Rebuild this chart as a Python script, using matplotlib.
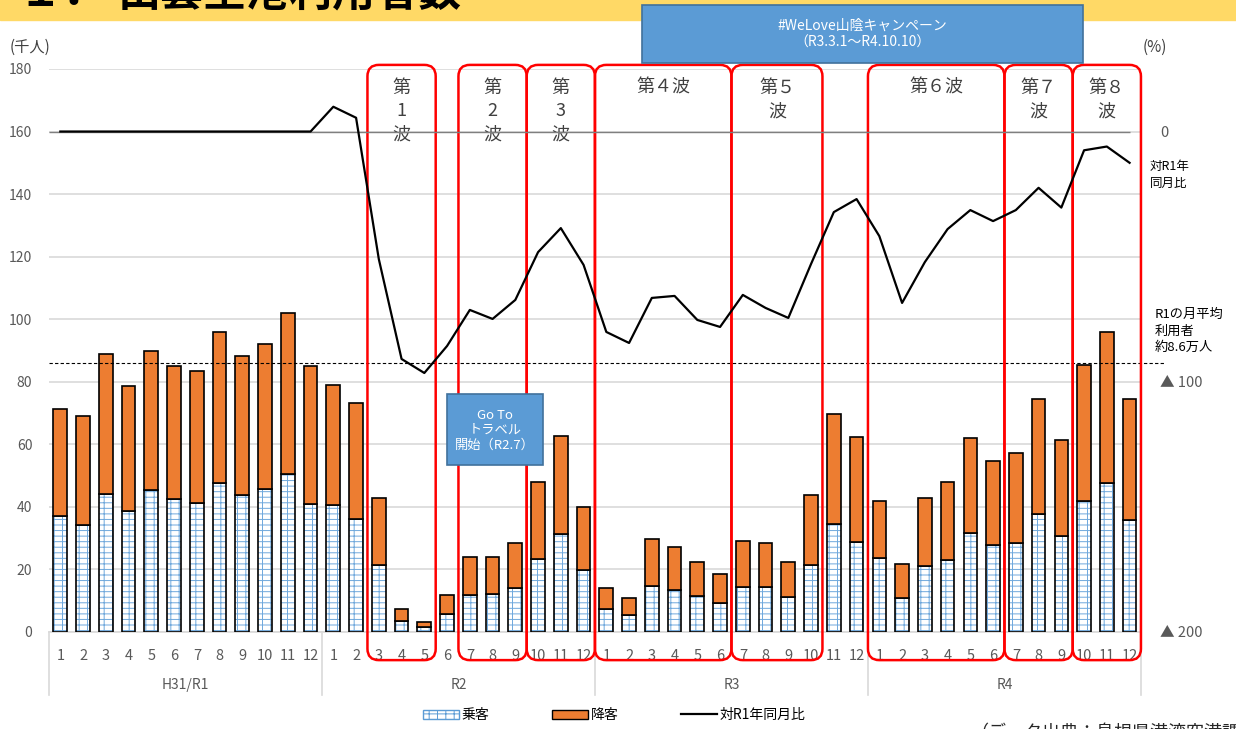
import numpy as np
import matplotlib.pyplot as plt
import matplotlib.transforms as mtransforms
from matplotlib.patches import Patch, Rectangle, FancyBboxPatch
from matplotlib.lines import Line2D

plt.rcParams['font.family'] = ['Noto Sans CJK JP', 'DejaVu Sans']
plt.rcParams['hatch.linewidth'] = 0.7

# Data (thousand people)
years = ["H31/R1", "R2", "R3", "R4"]
months = [str(m) for m in range(1, 13)] * 4

boarding = [37.2, 34.2, 44.2, 38.6, 45.3, 42.5, 41.1, 47.6, 43.8, 45.7, 50.5, 40.9,
            40.7, 36.1, 21.4, 3.5, 1.5, 5.8, 11.7, 12.0, 14.2, 23.2, 31.2, 19.8,
            7.4, 5.3, 14.7, 13.3, 11.4, 9.4, 14.3, 14.3, 11.1, 21.4, 34.6, 28.7,
            23.5, 11.0, 21.2, 22.9, 31.8, 27.7, 28.3, 37.6, 30.7, 41.9, 47.7, 35.8]

alighting = [34.1, 34.9, 44.6, 40.0, 44.5, 42.5, 42.3, 48.4, 44.5, 46.3, 51.6, 44.1,
             38.3, 37.0, 21.5, 3.9, 1.7, 6.1, 12.4, 12.1, 14.3, 24.9, 31.6, 20.2,
             6.8, 5.5, 15.1, 14.0, 10.9, 9.2, 14.8, 14.3, 11.4, 22.4, 35.1, 33.5,
             18.4, 10.8, 21.5, 25.1, 30.1, 27.0, 28.8, 37.0, 30.7, 43.5, 48.3, 38.8]

# change vs same month of R1 (%)
ratio = [0, 0, 0, 0, 0, 0, 0, 0, 0, 0, 0, 0,
         9.9, 5.5, -51.0, -90.9, -96.5, -85.7, -71.3, -74.9, -67.3, -48.2, -38.6, -53.3,
         -80.1, -84.5, -66.5, -65.7, -75.3, -78.1, -65.3, -70.5, -74.5, -52.9, -32.2, -27.0,
         -41.8, -68.5, -52.2, -39.0, -31.4, -35.8, -31.4, -22.5, -30.4, -7.5, -6.0, -12.5]

r1_avg = 86  # R1 monthly average (thousand)

wave_labels = ["第\n1\n波", "第\n2\n波", "第\n3\n波", "第４波", "第５\n波", "第６波", "第７\n波", "第８\n波"]
wave_first = [14, 18, 21, 24, 30, 36, 42, 45]
wave_last = [16, 20, 23, 29, 33, 41, 44, 47]

x = np.arange(len(boarding))
grey = "#595959"

fig = plt.figure(figsize=(12.36, 7.29), dpi=100)
fig.patch.set_facecolor("white")
ax = fig.add_axes([0.0396, 0.1331, 0.8835, 0.7723])
ax.set_xlim(-0.5, 47.5)
ax.set_ylim(0, 180)

# Bars
ax.bar(x, boarding, width=0.6, color="white", edgecolor="#6FA8DC", hatch="---||", linewidth=0, zorder=2)
ax.bar(x, boarding, width=0.6, fill=False, edgecolor="black", linewidth=1.2, zorder=3)
ax.bar(x, alighting, bottom=boarding, width=0.6, color="#ED7D31", edgecolor="black", linewidth=1.2, zorder=3)

# Grid / axes styling
ax.set_yticks(np.arange(0, 181, 20))
ax.yaxis.grid(True, color="#D9D9D9", linewidth=1.2)
ax.set_axisbelow(True)
for side in ["top", "right", "left"]:
    ax.spines[side].set_visible(False)
ax.spines["bottom"].set_color("#D9D9D9")
ax.spines["bottom"].set_linewidth(1.2)
ax.set_xticks(x)
ax.set_xticklabels(months)
ax.tick_params(axis="x", length=0, pad=12, labelsize=10.5, colors=grey)
ax.tick_params(axis="y", length=0, pad=12, labelsize=10, colors=grey)

# Year groups below the month labels
trans = mtransforms.blended_transform_factory(ax.transData, ax.transAxes)
for k in range(len(years) + 1):
    ax.plot([12 * k - 0.5] * 2, [0, -0.112], transform=trans, color="#D9D9D9", lw=1.2, clip_on=False)
for k, yr in enumerate(years):
    ax.text(12 * k + 5.5, -0.094, yr, transform=trans, ha="center", va="center", fontsize=10, color=grey)

# R1 average dashed line
ax.hlines(r1_avg, -0.5, 48.5, colors="black", linestyles=(0, (3, 2)), linewidth=0.8, clip_on=False, zorder=4)

# Wave boxes
asp = (1092 / 48) / (563 / 180)
for lab, a, b in zip(wave_labels, wave_first, wave_last):
    box = FancyBboxPatch((a - 0.5, -9), b - a + 1, 190.3,
                         boxstyle="round,pad=0,rounding_size=0.5", mutation_aspect=asp,
                         fill=False, edgecolor="#FF0000", linewidth=1.8, clip_on=False, zorder=6)
    ax.add_patch(box)
    ax.text((a + b) / 2, 176.8, lab, ha="center", va="top", fontsize=13, color="#404040",
            linespacing=1.38, zorder=7)

# Secondary axis: change vs R1
ax2 = ax.twinx()
ax2.set_ylim(-200, 25)
ax2.hlines(0, -0.5, 47, colors="#7F7F7F", linewidth=1.0)
ax2.plot(x, ratio, color="black", linewidth=1.6)
ax2.set_yticks([0, -100, -200])
ax2.set_yticklabels(["0", "▲ 100", "▲ 200"])
ax2.tick_params(axis="y", length=0, pad=14, labelsize=10.5, colors=grey)
for s in ax2.spines.values():
    s.set_visible(False)

# Axis unit labels and side notes
fig.text(0.008, 0.9355, "(千人)", fontsize=11, color="#404040", va="center")
fig.text(0.934, 0.9355, "(%)", fontsize=11, color="#404040", va="center", ha="center")
fig.text(0.930, 0.781, "対R1年\n同月比", fontsize=9, va="top", linespacing=1.45)
fig.text(0.934, 0.577, "R1の月平均\n利用者\n約8.6万人", fontsize=9.5, va="top", linespacing=1.35)

# Title banner (cut off at the top)
fig.patches.append(Rectangle((0, 0.9726), 1, 0.03, transform=fig.transFigure, color="#FFD966", zorder=1))
fig.text(0.095, 0.9918, "出雲空港利用者数", fontsize=31, fontweight="bold", va="baseline", zorder=1.5)
fig.text(0.085, 0.9918, "１－１．", fontsize=31, fontweight="bold", va="baseline", ha="right", zorder=1.5)

# Campaign box
fig.patches.append(Rectangle((0.5194, 0.9136), 0.3568, 0.0796, transform=fig.transFigure,
                             facecolor="#5B9BD5", edgecolor="#41719C", linewidth=1.2, zorder=2))
fig.text(0.6977, 0.9534, "#WeLove山陰キャンペーン\n（R3.3.1～R4.10.10）", color="white",
         fontsize=10, ha="center", va="center", linespacing=1.3, zorder=3)

# Go To Travel box
fig.patches.append(Rectangle((0.3617, 0.3621), 0.0777, 0.0974, transform=fig.transFigure,
                             facecolor="#5B9BD5", edgecolor="#41719C", linewidth=1.2, zorder=2))
fig.text(0.4005, 0.4101, "Go To\nトラベル\n開始（R2.7）", color="white",
         fontsize=9.5, ha="center", va="center", linespacing=1.2, zorder=3)

# Legend
handles = [Patch(facecolor="white", edgecolor="#5B9BD5", hatch="---||", label="乗客"),
           Patch(facecolor="#ED7D31", edgecolor="black", label="降客"),
           Line2D([], [], color="black", linewidth=1.6, label="対R1年同月比")]
fig.legend(handles=handles, loc="center", bbox_to_anchor=(0.497, 0.019), ncol=3, frameon=False,
           fontsize=10, handlelength=2.6, handleheight=0.6, columnspacing=4.5, handletextpad=0.2)

# Source note (cut off at the bottom)
fig.text(0.785, 0.006, "（データ出典：島根県港湾空港課）", fontsize=13, va="top", color="#262626")

plt.savefig("out.png", dpi=100)
